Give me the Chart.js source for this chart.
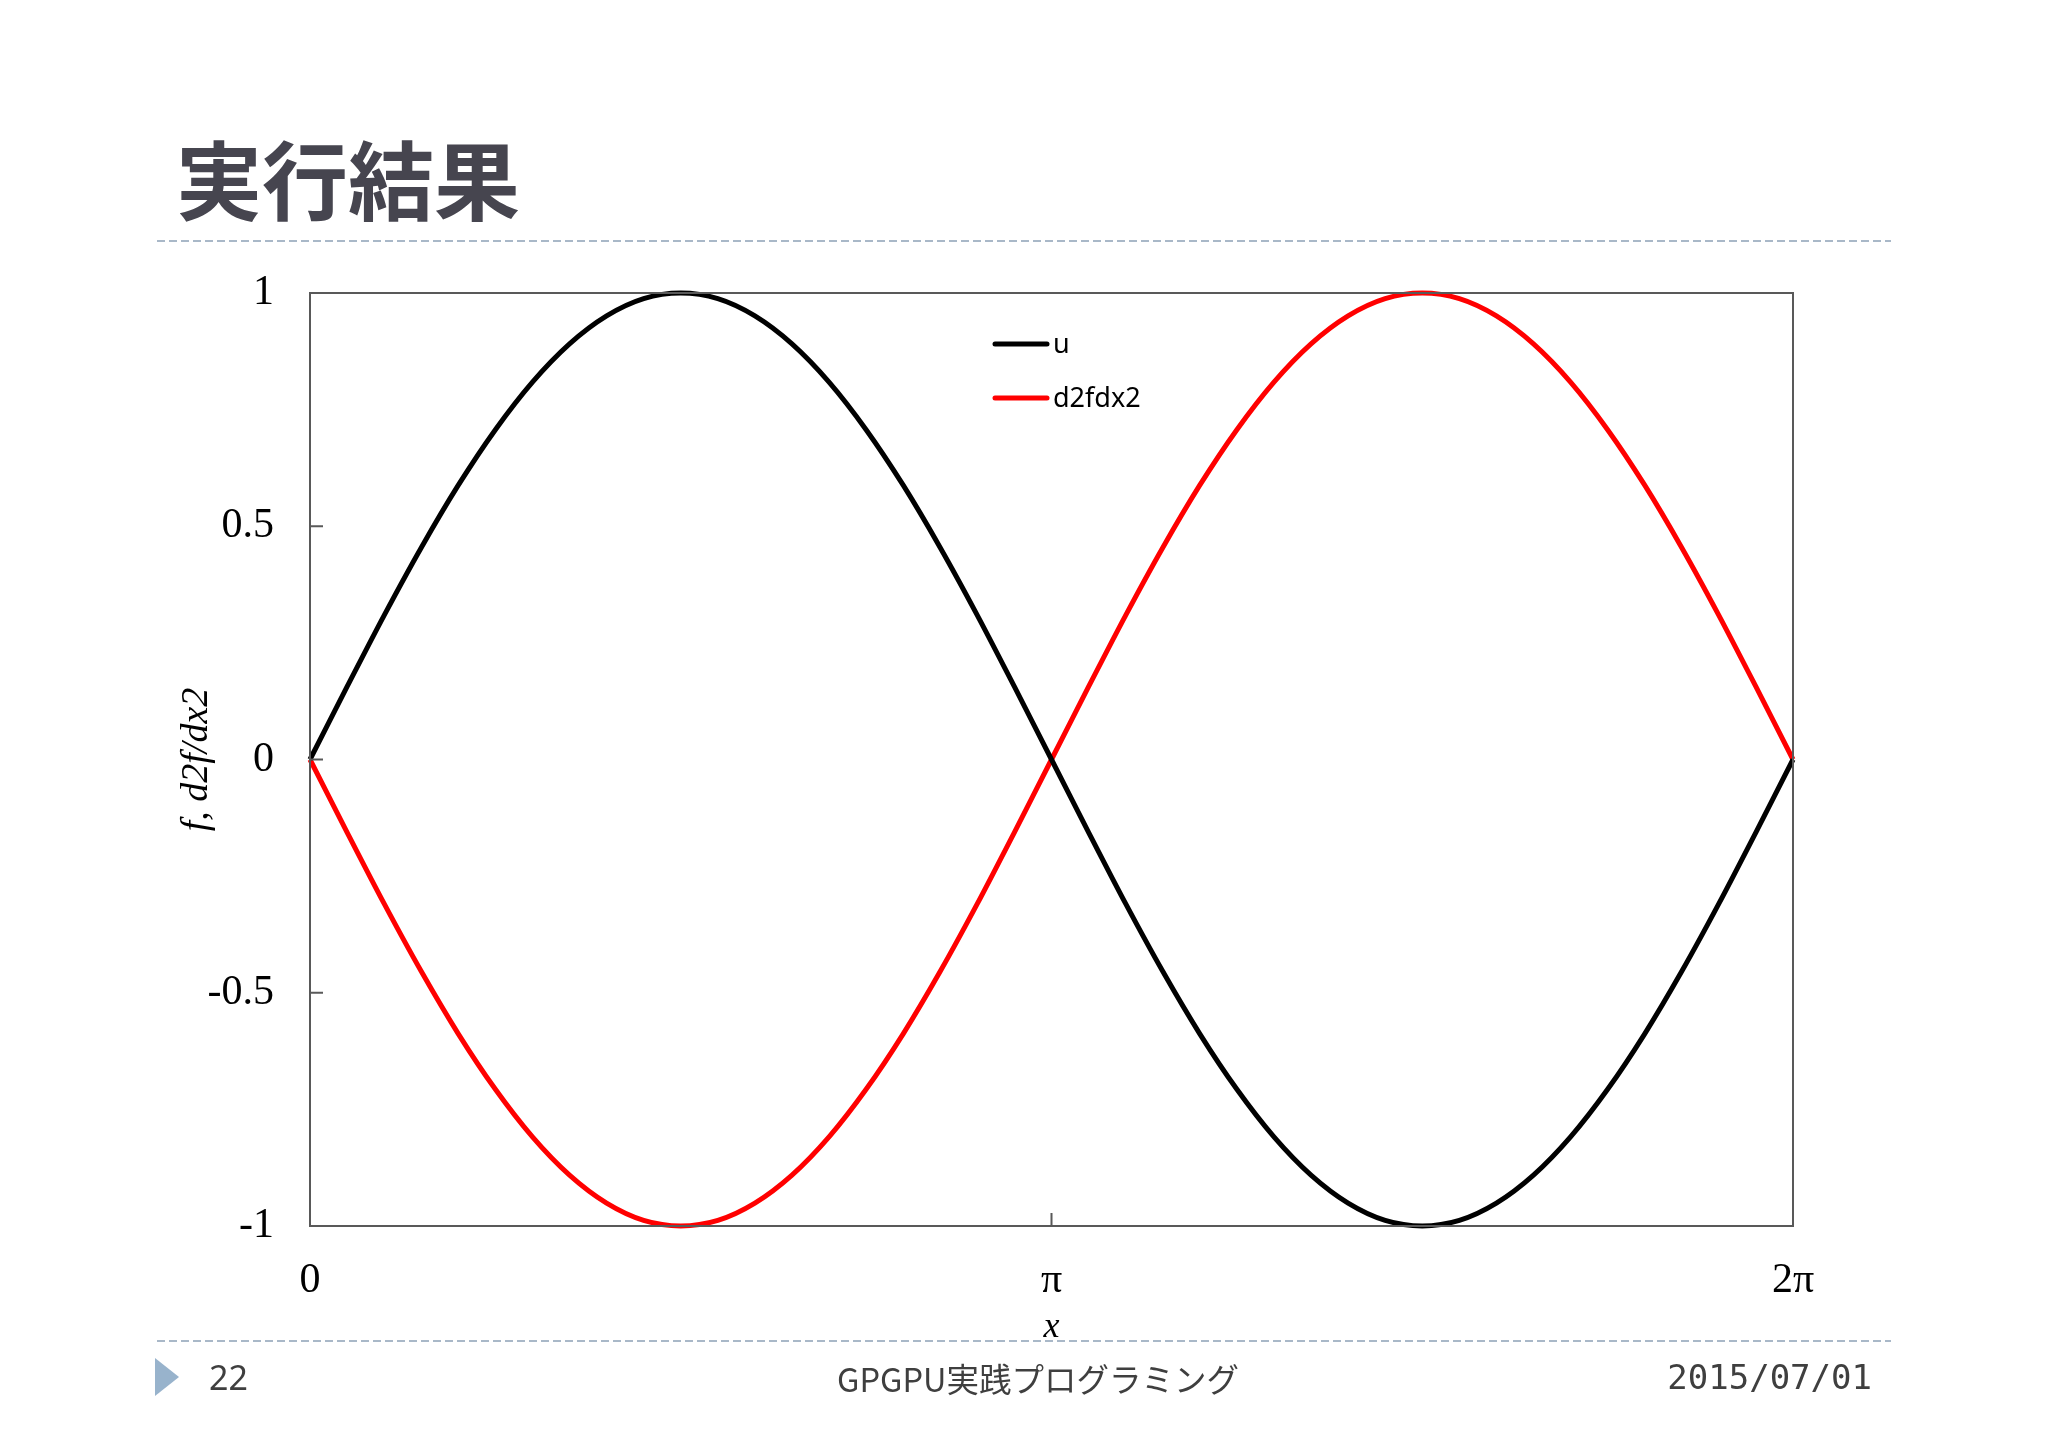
<!DOCTYPE html>
<html>
<head>
<meta charset="utf-8">
<script src="https://cdn.jsdelivr.net/npm/chart.js@4.4.1/dist/chart.umd.min.js"></script>
<style>
  html, body { margin: 0; padding: 0; background: #fff; }
  #page { position: relative; width: 2048px; height: 1448px; overflow: hidden; }
  #myChart { position: absolute; left: 0; top: 0; }
  .txt { position: absolute; white-space: nowrap; }
  #title { left: 176px; top: 134px; font: 700 86px "Noto Sans CJK JP"; line-height: 1; color: #46454f; }
  .dash { position: absolute; left: 157px; width: 1734px; height: 2px;
          background: repeating-linear-gradient(90deg, #a9b8c8 0 8px, transparent 8px 12px); }
  #tri { position: absolute; left: 155px; top: 1358px; width: 0; height: 0;
         border-top: 19px solid transparent; border-bottom: 19px solid transparent; border-left: 24px solid #98b3cc; }
  .foot { top: 1354px; line-height: 40px; color: #3f3f3f; }
</style>
</head>
<body>
<div id="page">
  <canvas id="myChart" width="2048" height="1448"></canvas>
  <div class="txt" id="title">実行結果</div>
  <div class="dash" style="top:240px"></div>
  <div class="dash" style="top:1340px"></div>
  <div id="tri"></div>
  <div class="txt foot" style="left:209px; font: 34px 'Noto Sans';">22</div>
  <div class="txt foot" style="left:1038px; transform: translateX(-50%); font: 32.5px 'Noto Sans CJK JP';">GPGPU実践プログラミング</div>
  <div class="txt foot" style="right:176px; top:1357px; font: 34px 'DejaVu Sans Mono';">2015/07/01</div>
</div>
<script>
// x in units of pi
const xValues = [0, 0.05, 0.1, 0.15, 0.2, 0.25, 0.3, 0.35, 0.4, 0.45, 0.5,
  0.55, 0.6, 0.65, 0.7, 0.75, 0.8, 0.85, 0.9, 0.95, 1,
  1.05, 1.1, 1.15, 1.2, 1.25, 1.3, 1.35, 1.4, 1.45, 1.5,
  1.55, 1.6, 1.65, 1.7, 1.75, 1.8, 1.85, 1.9, 1.95, 2];
const uValues = [0, 0.156, 0.309, 0.454, 0.588, 0.707, 0.809, 0.891, 0.951, 0.988, 1,
  0.988, 0.951, 0.891, 0.809, 0.707, 0.588, 0.454, 0.309, 0.156, 0,
  -0.156, -0.309, -0.454, -0.588, -0.707, -0.809, -0.891, -0.951, -0.988, -1,
  -0.988, -0.951, -0.891, -0.809, -0.707, -0.588, -0.454, -0.309, -0.156, 0];
const d2Values = [0, -0.156, -0.309, -0.454, -0.588, -0.707, -0.809, -0.891, -0.951, -0.988, -1,
  -0.988, -0.951, -0.891, -0.809, -0.707, -0.588, -0.454, -0.309, -0.156, 0,
  0.156, 0.309, 0.454, 0.588, 0.707, 0.809, 0.891, 0.951, 0.988, 1,
  0.988, 0.951, 0.891, 0.809, 0.707, 0.588, 0.454, 0.309, 0.156, 0];
const seriesNames = ["u", "d2fdx2"];
const seriesColors = ["#000000", "#ff0000"];
const xTickValues = [0, 1, 2];
const xTickLabels = ["0", "π", "2π"];
const yTickValues = [-1, -0.5, 0, 0.5, 1];
const yTickLabels = ["-1", "-0.5", "0", "0.5", "1"];
const xInnerTicks = [1];
const yInnerTicks = [-0.5, 0, 0.5];

const toPoints = (vals) => vals.map((v, i) => ({ x: xValues[i], y: v }));

const frame = {
  id: "frame",
  afterDatasetsDraw(c) {
    const { ctx, chartArea: a, scales } = c;
    ctx.save();
    ctx.strokeStyle = "#595959";
    ctx.lineWidth = 2;
    ctx.strokeRect(a.left, a.top, a.right - a.left, a.bottom - a.top);
    ctx.beginPath();
    yInnerTicks.forEach((v) => {
      const y = scales.y.getPixelForValue(v);
      ctx.moveTo(a.left, y);
      ctx.lineTo(a.left + 13, y);
    });
    xInnerTicks.forEach((v) => {
      const x = scales.x.getPixelForValue(v);
      ctx.moveTo(x, a.bottom);
      ctx.lineTo(x, a.bottom - 13);
    });
    ctx.stroke();

    // legend
    const lx = a.left + 685, ly = a.top + 51;
    ctx.font = "27px 'Noto Sans'";
    ctx.textBaseline = "middle";
    ctx.lineCap = "round";
    c.data.datasets.forEach((ds, i) => {
      const y = ly + i * 54;
      ctx.strokeStyle = ds.borderColor;
      ctx.lineWidth = 5;
      ctx.beginPath();
      ctx.moveTo(lx, y);
      ctx.lineTo(lx + 52, y);
      ctx.stroke();
      ctx.fillStyle = "#000";
      ctx.fillText(ds.label, lx + 58, y + 1);
    });
    ctx.restore();
  }
};

const config = {
  type: "line",
  data: {
    datasets: seriesNames.map((name, i) => ({
      label: name,
      data: toPoints(i === 0 ? uValues : d2Values),
      borderColor: seriesColors[i],
      backgroundColor: seriesColors[i],
      borderWidth: 5,
      pointRadius: 0,
      tension: 0.3,
      clip: false
    }))
  },
  options: {
    responsive: false,
    animation: false,
    devicePixelRatio: 1,
    layout: { padding: { left: 166, right: 255, top: 293, bottom: 90 } },
    plugins: { legend: { display: false }, tooltip: { enabled: false } },
    scales: {
      x: {
        type: "linear",
        min: 0,
        max: 2,
        afterFit: (s) => { s.height = 132; },
        afterBuildTicks: (s) => { s.ticks = xTickValues.map((v) => ({ value: v })); },
        grid: { display: false },
        border: { display: false },
        ticks: {
          padding: 22,
          color: "#000",
          font: { family: "'Liberation Serif'", size: 42 },
          maxRotation: 0,
          callback: (v) => xTickLabels[xTickValues.indexOf(v)]
        },
        title: {
          display: true,
          text: "x",
          color: "#000",
          padding: { top: 0, bottom: 9 },
          font: { family: "'Liberation Serif'", size: 36, style: "italic" }
        }
      },
      y: {
        min: -1,
        max: 1,
        afterFit: (s) => { s.width = 144; },
        afterBuildTicks: (s) => { s.ticks = yTickValues.map((v) => ({ value: v })); },
        grid: { display: false },
        border: { display: false },
        ticks: {
          padding: 28,
          color: "#000",
          font: { family: "'Liberation Serif'", size: 42 },
          callback: (v) => yTickLabels[yTickValues.indexOf(v)]
        },
        title: {
          display: true,
          text: "f, d2f/dx2",
          color: "#000",
          padding: { top: 8, bottom: 0 },
          font: { family: "'Liberation Serif'", size: 38, style: "italic" }
        }
      }
    }
  },
  plugins: [frame]
};

const chart = new Chart(document.getElementById("myChart"), config);
</script>
</body>
</html>
